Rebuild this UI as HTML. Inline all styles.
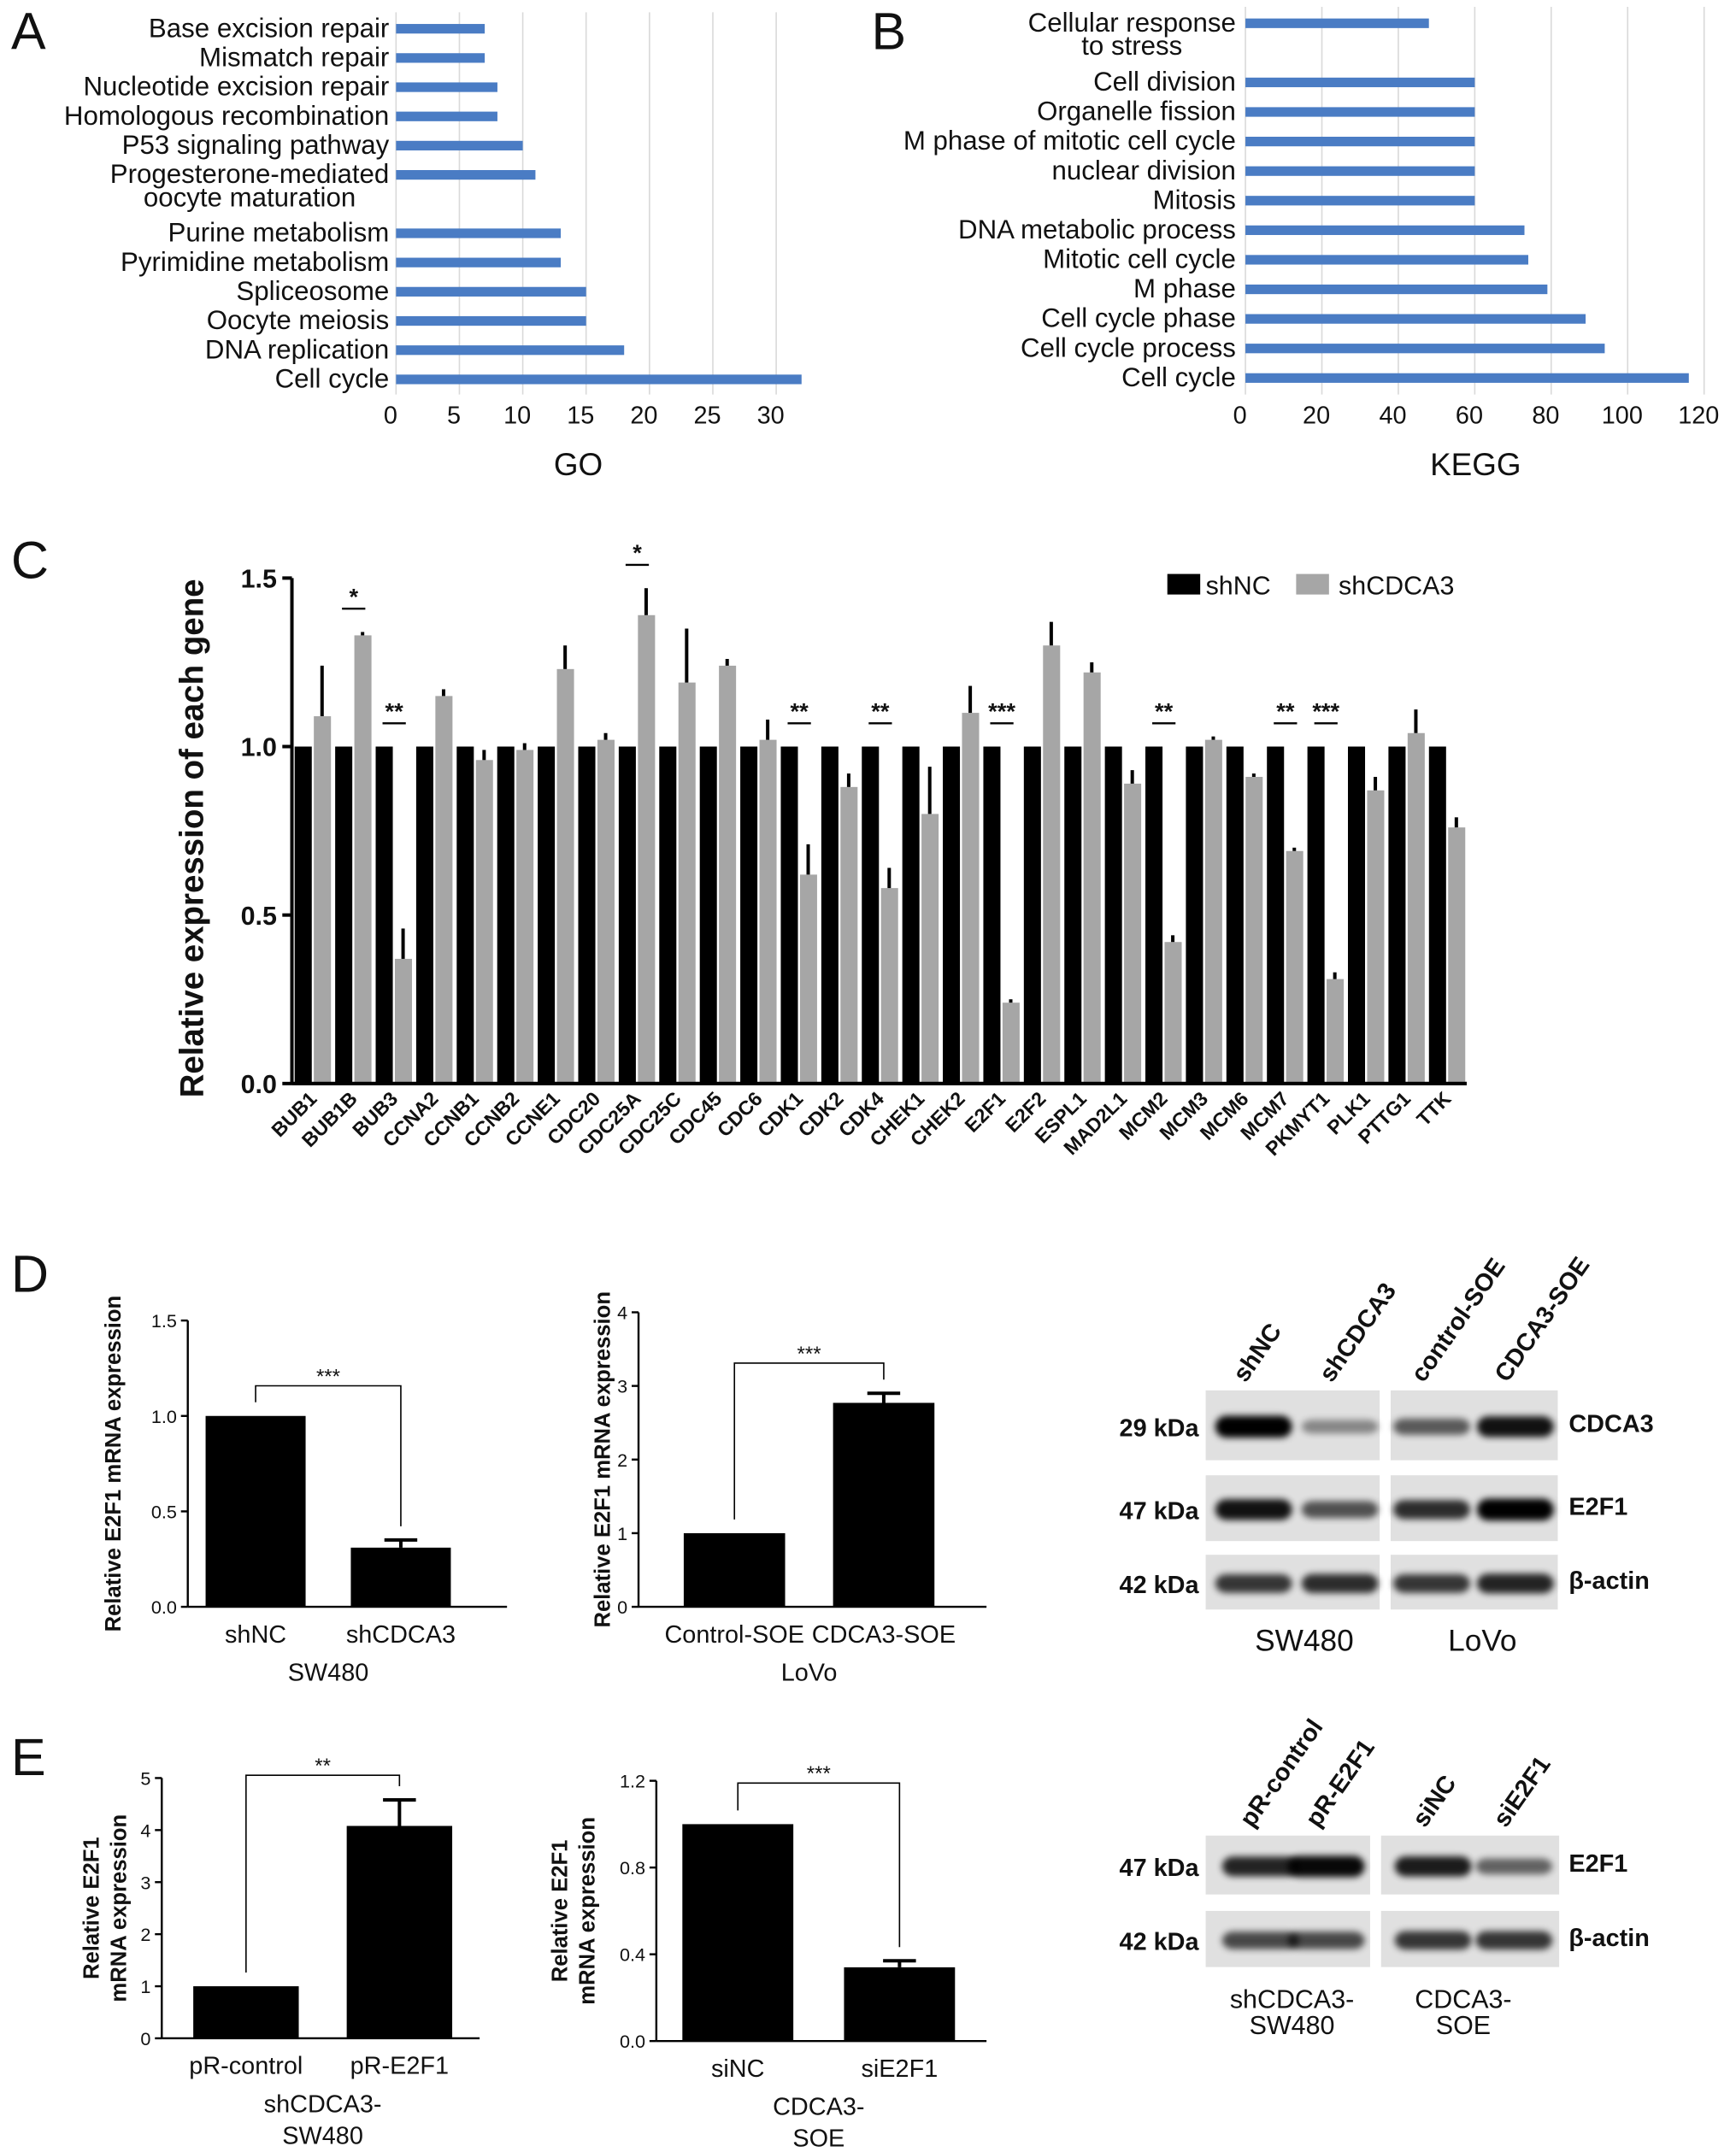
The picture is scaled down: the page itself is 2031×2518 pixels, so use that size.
<!DOCTYPE html>
<html><head><meta charset="utf-8">
<style>
html,body{margin:0;padding:0;background:#fff;}
svg{display:block;font-family:"Liberation Sans",Arial,sans-serif;}
</style></head>
<body>
<svg id="fig" xmlns="http://www.w3.org/2000/svg" width="2031" height="2518" viewBox="0 0 1267 1571">
<defs>
<filter id="blur" x="-30%" y="-80%" width="160%" height="260%"><feGaussianBlur stdDeviation="2.5"/></filter>
</defs>
</svg>
<script>
// ---------- Panel A data ----------
const goCats = ['Base excision repair','Mismatch repair','Nucleotide excision repair','Homologous recombination','P53  signaling pathway','Progesterone-mediated|oocyte maturation','','Purine metabolism','Pyrimidine metabolism','Spliceosome','Oocyte meiosis','DNA replication','Cell cycle'];
const goVals = [7,7,8,8,10,11,null,13,13,15,15,18,32];
const goTicks = [0,5,10,15,20,25,30];
// ---------- Panel B data ----------
const keggCats = ['Cellular response|to stress','','Cell division','Organelle fission','M phase of mitotic cell cycle','nuclear division','Mitosis','DNA metabolic process','Mitotic cell cycle','M phase','Cell cycle phase','Cell cycle process','Cell cycle'];
const keggVals = [48,null,60,60,60,60,60,73,74,79,89,94,116];
const keggTicks = [0,20,40,60,80,100,120];
// ---------- Panel C data ----------
const genes = ['BUB1','BUB1B','BUB3','CCNA2','CCNB1','CCNB2','CCNE1','CDC20','CDC25A','CDC25C','CDC45','CDC6','CDK1','CDK2','CDK4','CHEK1','CHEK2','E2F1','E2F2','ESPL1','MAD2L1','MCM2','MCM3','MCM6','MCM7','PKMYT1','PLK1','PTTG1','TTK'];
const shNC = [1,1,1,1,1,1,1,1,1,1,1,1,1,1,1,1,1,1,1,1,1,1,1,1,1,1,1,1,1];
const shCDCA3 = [1.09,1.33,0.37,1.15,0.96,0.99,1.23,1.02,1.39,1.19,1.24,1.02,0.62,0.88,0.58,0.80,1.10,0.24,1.30,1.22,0.89,0.42,1.02,0.91,0.69,0.31,0.87,1.04,0.76];
const shCDCA3Err = [0.15,0.01,0.09,0.02,0.03,0.02,0.07,0.02,0.08,0.16,0.02,0.06,0.09,0.04,0.06,0.14,0.08,0.01,0.07,0.03,0.04,0.02,0.01,0.01,0.01,0.02,0.04,0.07,0.03];
const sig = ['','*','**','','','','','','*','','','','**','','**','','','***','','','','**','','','**','***','','',''];
const cTicks = [0.0,0.5,1.0,1.5];
// ---------- Panel D/E bar data ----------
const dSW = {cats:['shNC','shCDCA3'], vals:[1.0,0.31], errs:[0,0.04], ticks:[0,0.5,1.0,1.5], tickLbl:['0.0','0.5','1.0','1.5'], sig:'***'};
const dLo = {cats:['Control-SOE','CDCA3-SOE'], vals:[1.0,2.77], errs:[0,0.13], ticks:[0,1,2,3,4], tickLbl:['0','1','2','3','4'], sig:'***'};
const eSW = {cats:['pR-control','pR-E2F1'], vals:[1.0,4.08], errs:[0,0.5], ticks:[0,1,2,3,4,5], tickLbl:['0','1','2','3','4','5'], sig:'**'};
const eSO = {cats:['siNC','siE2F1'], vals:[1.0,0.34], errs:[0,0.03], ticks:[0,0.4,0.8,1.2], tickLbl:['0.0','0.4','0.8','1.2'], sig:'***'};

const NS='http://www.w3.org/2000/svg';
const svg=document.getElementById('fig');
function mk(tag,attrs,parent,text){const e=document.createElementNS(NS,tag);for(const k in attrs)e.setAttribute(k,attrs[k]);if(text!==undefined)e.textContent=text;(parent||svg).appendChild(e);return e;}
function txt(x,y,s,size,opts,parent){opts=opts||{};const a={x:x,y:y,'font-size':size,fill:'#111','text-anchor':opts.anchor||'start'};if(opts.bold)a['font-weight']='bold';if(opts.rot!==undefined)a.transform='rotate('+opts.rot+' '+x+' '+y+')';return mk('text',a,parent,s);}

[['A',8,36],['B',636,36],['C',8,422],['D',8,943],['E',8,1296]].forEach(p=>{
  const t=txt(p[1],p[2],p[0],38,{});
  
  
});

function hbar(gname,cats,vals,ticks,x0,unit,y0,step,labelX,axisY,title,titleX){
  const g=mk('g',{},svg);
  
  
  const xs=v=>x0+v*unit;
  ticks.forEach(t=>{
    if(t>0){const gl=mk('line',{x1:xs(t),x2:xs(t),y1:y0-12,y2:axisY,stroke:'#d9d9d9','stroke-width':1},g);
    
    }
    const tl=txt(xs(t)-4,axisY+21,String(t),18,{anchor:'middle'},g);
    
    
  });
  const ax=mk('line',{x1:x0,x2:x0,y1:y0-12,y2:axisY,stroke:'#d9d9d9','stroke-width':1},g);
  
  
  cats.forEach((c,i)=>{
    const y=y0+i*step;
    if(vals[i]!==null){
      const b=mk('rect',{x:x0,y:y-3.5,width:xs(vals[i])-x0,height:7,fill:'#4a7cc4'},g);
      
      
    }
    if(c){
      const parts=c.split('|');
      const l1=txt(labelX,y+6,parts[0],19.5,{anchor:'end'},g);
      
      
      if(parts[1]){
        const w=l1.getComputedTextLength();
        const l2=txt(labelX-w/2,y+23,parts[1],19.5,{anchor:'middle'},g);
        
        
      }
    }
  });
  const tt=txt(titleX,axisY+59,title,23,{anchor:'middle'},g);
  
  
}
hbar('go-chart',goCats,goVals,goTicks,289,9.25,21,21.33,284,288,'GO',422);
hbar('kegg-chart',keggCats,keggVals,keggTicks,909,2.79,17,21.58,902,288,'KEGG',1077);

(function(){
  const g=mk('g',{},svg);
  
  
  const y0=791,unit=246,ax=213,step=29.57,gx0=215;
  const ys=v=>y0-v*unit;
  cTicks.forEach(t=>{
    const tk=mk('line',{x1:ax-7,x2:ax,y1:ys(t),y2:ys(t),stroke:'#000','stroke-width':2.5},g);
    
    
    const tl=txt(ax-11,ys(t)+7,t.toFixed(1),19,{anchor:'end',bold:true},g);
    
    
  });
  genes.forEach((gn,i)=>{
    const x=gx0+i*step;
    const b1=mk('rect',{x:x,y:ys(shNC[i]),width:12.5,height:y0-ys(shNC[i]),fill:'#000'},g);
    
    
    const b2=mk('rect',{x:x+14,y:ys(shCDCA3[i]),width:12.5,height:y0-ys(shCDCA3[i]),fill:'#a6a6a6'},g);
    
    
    const eb=mk('line',{x1:x+20,x2:x+20,y1:ys(shCDCA3[i]),y2:ys(shCDCA3[i]+shCDCA3Err[i]),stroke:'#000','stroke-width':2.5},g);
    
    
    const lx=x+17,ly=y0+12;
    const xl=txt(lx,ly,gn,14.5,{anchor:'end',bold:true,rot:-45},g);
    
    
    if(sig[i]){
      const top=Math.max(shNC[i],shCDCA3[i]+shCDCA3Err[i]);
      const sy=ys(top)-17;
      const sl=mk('line',{x1:x+5,x2:x+22,y1:sy,y2:sy,stroke:'#000','stroke-width':1.5},g);
      
      
      const st=txt(x+13.5,sy-3,sig[i],17,{anchor:'middle',bold:true},g);
      
      
    }
  });
  const ya=mk('line',{x1:ax,x2:ax,y1:ys(1.5),y2:y0,stroke:'#000','stroke-width':2.5},g);
  
  
  const xa=mk('line',{x1:ax,x2:gx0+genes.length*step-2,y1:y0,y2:y0,stroke:'#000','stroke-width':2.5},g);
  
  
  const yt=txt(148,612,'Relative expression of each gene',24,{anchor:'middle',bold:true,rot:-90},g);
  
  
  const l1=mk('rect',{x:852,y:419,width:24,height:15,fill:'#000'},g);
  
  
  const lt1=txt(880,434,'shNC',19,{},g);
  
  
  const l2=mk('rect',{x:946,y:419,width:24,height:15,fill:'#a6a6a6'},g);
  
  
  const lt2=txt(977,434,'shCDCA3',19,{},g);
  
  
})();

function small(gname,d,o){
  const g=mk('g',{},svg);
  
  
  const maxT=d.ticks[d.ticks.length-1];
  const unit=(o.y0-o.yTop)/maxT;
  const ys=v=>o.y0-v*unit;
  d.ticks.forEach((t,i)=>{
    const tk=mk('line',{x1:o.ax-5,x2:o.ax,y1:ys(t),y2:ys(t),stroke:'#000','stroke-width':1.5},g);
    
    
    const tl=txt(o.ax-8,ys(t)+5,d.tickLbl[i],13.5,{anchor:'end'},g);
    
    
  });
  const cx=[];
  d.cats.forEach((c,i)=>{
    const x=o.bx[i];
    cx.push(x+o.bw/2);
    const b=mk('rect',{x:x,y:ys(d.vals[i]),width:o.bw,height:o.y0-ys(d.vals[i]),fill:'#000'},g);
    
    
    if(d.errs[i]>0){
      const e=ys(d.vals[i]+d.errs[i]);
      const el=mk('path',{d:'M'+(x+o.bw/2)+' '+ys(d.vals[i])+'V'+e+'M'+(x+o.bw/2-12)+' '+e+'H'+(x+o.bw/2+12),stroke:'#000','stroke-width':2.5,fill:'none'},g);
      
      
    }
    const xl=txt(x+o.bw/2,o.y0+26,c,18,{anchor:'middle'},g);
    
    
  });
  const ya=mk('line',{x1:o.ax,x2:o.ax,y1:o.yTop,y2:o.y0,stroke:'#000','stroke-width':1.5},g);
  
  
  const xa=mk('line',{x1:o.ax,x2:o.axEnd,y1:o.y0,y2:o.y0,stroke:'#000','stroke-width':1.5},g);
  
  
  const b0=ys(d.vals[0]+d.errs[0])-10,b1=ys(d.vals[1]+d.errs[1])-10,top=Math.min(b0,b1)-o.brH;
  const br=mk('path',{d:'M'+cx[0]+' '+b0+'V'+top+'H'+cx[1]+'V'+b1,stroke:'#000','stroke-width':1,fill:'none'},g);
  
  
  const st=txt((cx[0]+cx[1])/2,top-2,d.sig,15,{anchor:'middle'},g);
  
  
  o.sub.forEach((s,i)=>{
    const t=txt((cx[0]+cx[1])/2,o.y0+54+i*23,s,18,{anchor:'middle'},g);
    
    
  });
  o.ytitle.forEach((s,i)=>{
    const t=txt(o.ytx+i*20,(o.y0+o.yTop)/2,s,16,{anchor:'middle',bold:true,rot:-90},g);
    
    
  });
}
small('d-sw480-chart',dSW,{ax:137,y0:1173,yTop:964,bx:[150,256],bw:73,axEnd:370,brH:12,sub:['SW480'],ytitle:['Relative E2F1 mRNA expression'],ytx:88});
small('d-lovo-chart',dLo,{ax:466,y0:1173,yTop:958,bx:[499,608],bw:74,axEnd:720,brH:12,sub:['LoVo'],ytitle:['Relative E2F1 mRNA expression'],ytx:445});
small('e-sw480-chart',eSW,{ax:118,y0:1488,yTop:1298,bx:[141,253],bw:77,axEnd:350,brH:8,sub:['shCDCA3-','SW480'],ytitle:['Relative E2F1','mRNA expression'],ytx:72});
small('e-soe-chart',eSO,{ax:479,y0:1490,yTop:1300,bx:[498,616],bw:81,axEnd:720,brH:20,sub:['CDCA3-','SOE'],ytitle:['Relative E2F1','mRNA expression'],ytx:414});

function blot(gname,boxes,rows,lanes,kda,prot,colLbl,bottom){
  const g=mk('g',{},svg);
  
  
  rows.forEach((r,ri)=>{
    boxes.forEach((b,bi)=>{
      const bx=mk('rect',{x:b[0],y:r[0],width:b[1]-b[0],height:r[1]-r[0],fill:'#e0e0e0'},g);
      
      
      [0,1].forEach(li=>{
        const L=lanes[bi][li];
        const intensity=r[2][bi*2+li];
        const bd=mk('rect',{x:L-28,y:(r[0]+r[1])/2-3-intensity*4,width:56,height:8+intensity*8,rx:8,fill:'#000',opacity:0.2+intensity*0.8,filter:'url(#blur)'},g);
        
        
      });
    });
    const k=txt(875,(r[0]+r[1])/2+8,kda[ri],18,{anchor:'end',bold:true},g);
    
    
    const p=txt(1145,(r[0]+r[1])/2+5,prot[ri],18,{bold:true},g);
    
    
  });
  colLbl.forEach((c,i)=>{
    const x=lanes[Math.floor(i/2)][i%2]-6;
    const t=txt(x,rows[0][0]-5,c,18,{bold:true,rot:-55},g);
    
    
  });
  bottom.forEach((b,i)=>{
    b.lines.forEach((s,j)=>{
      const t=txt(b.x,b.y+j*19,s,b.size,{anchor:'middle'},g);
      
      
    });
  });
}
blot('d-western-blot',[[880,1007],[1015,1137]],[[1015,1066,[1,0.25,0.5,0.9]],[1077,1125,[0.9,0.55,0.75,1]],[1135,1175,[0.7,0.75,0.7,0.8]]],[[915,978],[1045,1106]],['29 kDa','47 kDa','42 kDa'],['CDCA3','E2F1','β-actin'],['shNC','shCDCA3','control-SOE','CDCA3-SOE'],[{x:952,y:1205,lines:['SW480'],size:22},{x:1082,y:1205,lines:['LoVo'],size:22}]);
blot('e-western-blot',[[880,1000],[1008,1138]],[[1340,1383,[0.8,0.95,0.85,0.45]],[1395,1436,[0.6,0.6,0.7,0.7]]],[[920,968],[1046,1105]],['47 kDa','42 kDa'],['E2F1','β-actin'],['pR-control','pR-E2F1','siNC','siE2F1'],[{x:943,y:1466,lines:['shCDCA3-','SW480'],size:19},{x:1068,y:1466,lines:['CDCA3-','SOE'],size:19}]);
</script>
</body></html>
